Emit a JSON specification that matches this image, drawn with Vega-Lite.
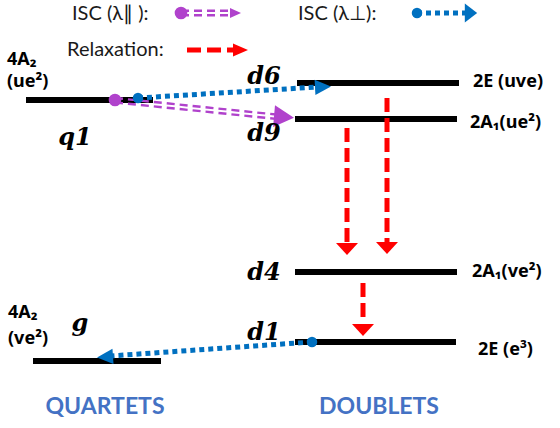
{
  "$schema": "https://vega.github.io/schema/vega-lite/v6.json",
  "width": 560,
  "height": 428,
  "padding": 0,
  "autosize": {"type": "none"},
  "background": "white",
  "config": {"view": {"stroke": null}},
  "datasets": {
    "levels": [
      {"state": "q1", "x": 26, "x2": 153, "y": 100},
      {"state": "g", "x": 33, "x2": 161, "y": 361},
      {"state": "d6", "x": 297, "x2": 459, "y": 83},
      {"state": "d9", "x": 295, "x2": 457, "y": 119},
      {"state": "d4", "x": 295, "x2": 457, "y": 272},
      {"state": "d1", "x": 295, "x2": 456, "y": 342}
    ],
    "para": [
      {"path": "legend-a", "x": 181, "y": 10.8, "x2": 232, "y2": 10.8},
      {"path": "legend-b", "x": 181, "y": 15.2, "x2": 232, "y2": 15.2},
      {"path": "q1-d9-a", "x": 115, "y": 98, "x2": 276, "y2": 114.5},
      {"path": "q1-d9-b", "x": 115, "y": 102.4, "x2": 276, "y2": 118.9}
    ],
    "perp": [
      {"path": "legend", "x": 417, "y": 13, "x2": 467, "y2": 13},
      {"path": "q1-d6", "x": 138, "y": 98, "x2": 318, "y2": 87},
      {"path": "d1-g", "x": 312, "y": 342, "x2": 110, "y2": 356}
    ],
    "relax": [
      {"path": "legend", "x": 187, "y": 50, "x2": 236, "y2": 50},
      {"path": "d6-d4", "x": 387, "y": 98, "x2": 387, "y2": 243},
      {"path": "d9-d4", "x": 347, "y": 128, "x2": 347, "y2": 243},
      {"path": "d4-d1", "x": 363, "y": 283, "x2": 363, "y2": 323}
    ],
    "heads": [
      {"kind": "para-legend", "x": 235.5, "y": 13, "angle": 0},
      {"kind": "para", "x": 284, "y": 117, "angle": 5},
      {"kind": "perp-legend", "x": 471, "y": 13, "angle": 0},
      {"kind": "perp", "x": 323, "y": 87, "angle": -3},
      {"kind": "perp", "x": 105, "y": 357, "angle": 176},
      {"kind": "relax-legend", "x": 240.5, "y": 50, "angle": 0},
      {"kind": "relax", "x": 387, "y": 248, "angle": 90},
      {"kind": "relax", "x": 347, "y": 249, "angle": 90},
      {"kind": "relax", "x": 363, "y": 330, "angle": 90}
    ],
    "dots": [
      {"kind": "para", "x": 181, "y": 13},
      {"kind": "perp", "x": 417, "y": 13},
      {"kind": "para", "x": 115, "y": 100},
      {"kind": "perp", "x": 138, "y": 98},
      {"kind": "perp", "x": 312, "y": 342}
    ],
    "terms": [
      {"t": "4A₂", "x": 7, "y": 60},
      {"t": "(ue²)", "x": 7, "y": 82},
      {"t": "4A₂", "x": 8, "y": 313},
      {"t": "(ve²)", "x": 8, "y": 339},
      {"t": "2E (uve)", "x": 473, "y": 82},
      {"t": "2A₁(ue²)", "x": 470, "y": 123},
      {"t": "2A₁(ve²)", "x": 472, "y": 272},
      {"t": "2E (e³)", "x": 478, "y": 350}
    ],
    "states": [
      {"t": "q1", "x": 75, "y": 138},
      {"t": "g", "x": 80, "y": 324},
      {"t": "d6", "x": 264, "y": 77},
      {"t": "d9", "x": 264, "y": 134},
      {"t": "d4", "x": 264, "y": 273},
      {"t": "d1", "x": 264, "y": 333}
    ],
    "legendText": [
      {"t": "ISC (λ∥ ):", "x": 72, "y": 14},
      {"t": "ISC (λ⊥):", "x": 298, "y": 14},
      {"t": "Relaxation:", "x": 67, "y": 50}
    ],
    "headings": [
      {"t": "QUARTETS", "x": 105, "y": 407},
      {"t": "DOUBLETS", "x": 379, "y": 407}
    ]
  },
  "encoding": {
    "x": {"field": "x", "type": "quantitative", "scale": {"domain": [0, 560], "nice": false, "zero": false}, "axis": null},
    "y": {"field": "y", "type": "quantitative", "scale": {"domain": [0, 428], "nice": false, "zero": false, "reverse": true}, "axis": null}
  },
  "layer": [
    {
      "data": {"name": "levels"},
      "mark": {"type": "rule", "color": "black", "strokeWidth": 6},
      "encoding": {"x2": {"field": "x2"}}
    },
    {
      "data": {"name": "para"},
      "mark": {"type": "rule", "color": "#B042CC", "strokeWidth": 2.4, "strokeDash": [8, 5]},
      "encoding": {"x2": {"field": "x2"}, "y2": {"field": "y2"}}
    },
    {
      "data": {"name": "perp"},
      "mark": {"type": "rule", "color": "#0070C0", "strokeWidth": 5, "strokeDash": [5, 4]},
      "encoding": {"x2": {"field": "x2"}, "y2": {"field": "y2"}}
    },
    {
      "data": {"name": "relax"},
      "mark": {"type": "rule", "color": "#FF0000", "strokeWidth": 5, "strokeDash": [14, 6]},
      "encoding": {"x2": {"field": "x2"}, "y2": {"field": "y2"}}
    },
    {
      "data": {"name": "heads"},
      "transform": [{"filter": "datum.kind == 'para-legend'"}],
      "mark": {"type": "point", "filled": true, "opacity": 1, "strokeWidth": 0, "color": "#B042CC", "shape": "M-1,-0.9L1,0L-1,0.9Z", "size": 121},
      "encoding": {"angle": {"field": "angle", "type": "quantitative", "scale": null}}
    },
    {
      "data": {"name": "heads"},
      "transform": [{"filter": "datum.kind == 'para'"}],
      "mark": {"type": "point", "filled": true, "opacity": 1, "strokeWidth": 0, "color": "#B042CC", "shape": "M-1,-1.1L1,0L-1,1.1Z", "size": 400},
      "encoding": {"angle": {"field": "angle", "type": "quantitative", "scale": null}}
    },
    {
      "data": {"name": "heads"},
      "transform": [{"filter": "datum.kind == 'perp-legend'"}],
      "mark": {"type": "point", "filled": true, "opacity": 1, "strokeWidth": 0, "color": "#0070C0", "shape": "M-0.65,-1L0.65,0L-0.65,1Z", "size": 361},
      "encoding": {"angle": {"field": "angle", "type": "quantitative", "scale": null}}
    },
    {
      "data": {"name": "heads"},
      "transform": [{"filter": "datum.kind == 'perp'"}],
      "mark": {"type": "point", "filled": true, "opacity": 1, "strokeWidth": 0, "color": "#0070C0", "shape": "M-1,-0.95L1,0L-1,0.95Z", "size": 256},
      "encoding": {"angle": {"field": "angle", "type": "quantitative", "scale": null}}
    },
    {
      "data": {"name": "heads"},
      "transform": [{"filter": "datum.kind == 'relax-legend'"}],
      "mark": {"type": "point", "filled": true, "opacity": 1, "strokeWidth": 0, "color": "#FF0000", "shape": "M-1,-0.87L1,0L-1,0.87Z", "size": 225},
      "encoding": {"angle": {"field": "angle", "type": "quantitative", "scale": null}}
    },
    {
      "data": {"name": "heads"},
      "transform": [{"filter": "datum.kind == 'relax'"}],
      "mark": {"type": "point", "filled": true, "opacity": 1, "strokeWidth": 0, "color": "#FF0000", "shape": "M-0.55,-1L0.55,0L-0.55,1Z", "size": 484},
      "encoding": {"angle": {"field": "angle", "type": "quantitative", "scale": null}}
    },
    {
      "data": {"name": "dots"},
      "transform": [{"filter": "datum.kind == 'para'"}],
      "mark": {"type": "circle", "opacity": 1, "color": "#B042CC", "size": 160},
      "encoding": {}
    },
    {
      "data": {"name": "dots"},
      "transform": [{"filter": "datum.kind == 'perp'"}],
      "mark": {"type": "circle", "opacity": 1, "color": "#0070C0", "size": 110},
      "encoding": {}
    },
    {
      "data": {"name": "terms"},
      "mark": {"type": "text", "font": "Noto Sans", "fontWeight": "bold", "fontSize": 18, "align": "left", "baseline": "middle", "color": "black"},
      "encoding": {"text": {"field": "t"}}
    },
    {
      "data": {"name": "states"},
      "mark": {"type": "text", "font": "DejaVu Serif", "fontWeight": "bold", "fontStyle": "italic", "fontSize": 24, "align": "center", "baseline": "middle", "color": "black"},
      "encoding": {"text": {"field": "t"}}
    },
    {
      "data": {"name": "legendText"},
      "mark": {"type": "text", "font": "Lato", "fontSize": 20, "align": "left", "baseline": "middle", "color": "#1a1a1a"},
      "encoding": {"text": {"field": "t"}}
    },
    {
      "data": {"name": "headings"},
      "mark": {"type": "text", "font": "Lato", "fontWeight": "bold", "fontSize": 23, "align": "center", "baseline": "middle", "color": "#4472C4"},
      "encoding": {"text": {"field": "t"}}
    }
  ]
}
